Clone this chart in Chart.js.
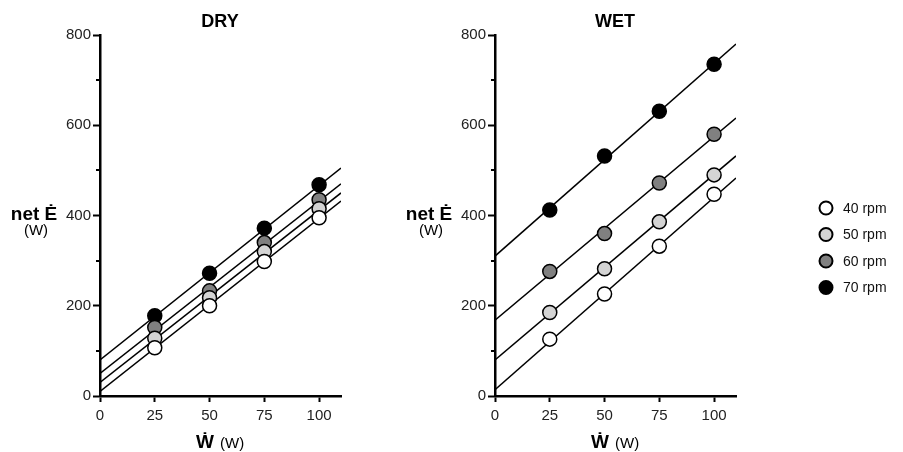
<!DOCTYPE html>
<html>
<head>
<meta charset="utf-8">
<script src="https://cdn.jsdelivr.net/npm/chart.js@4"></script>
<style>
  body { margin: 0; background: #fff; width: 903px; height: 452px; position: relative; overflow: hidden; }
  canvas { position: absolute; top: 0; }
  #dry { left: 0; }
  #wet { left: 395px; }
</style>
</head>
<body>
<canvas id="dry" width="360" height="452"></canvas>
<canvas id="wet" width="508" height="452"></canvas>
<script>
// valores
var workLoads = [25, 50, 75, 100];
var xTicks = [0, 25, 50, 75, 100];
var yTicks = [0, 200, 400, 600, 800];
var yMinor = [100, 300, 500, 700];
var cadences = ['40 rpm', '50 rpm', '60 rpm', '70 rpm'];
var fills = ['#ffffff', '#d4d4d4', '#808080', '#000000'];

var dry40 = [107, 200, 298, 395];
var dry50 = [128, 218, 320, 415];
var dry60 = [152, 233, 340, 435];
var dry70 = [178, 272, 372, 468];

var wet40 = [126, 226, 332, 447];
var wet50 = [185, 282, 386, 490];
var wet60 = [276, 360, 472, 580];
var wet70 = [412, 532, 631, 735];

// retas de regressão: valor em x=0 e x=110
var lineX = [0, 110];
var dryFit = [[10, 432], [30, 450], [50, 470], [80, 505]];
var wetFit = [[14, 483], [80, 532], [168, 616], [310, 780]];

var fontFam = "'Liberation Sans', Arial, 'DejaVu Sans', sans-serif";

function makeData(series, fits) {
    var ds = [];
    series.forEach(function(vals, i) {
        ds.push({
            label: cadences[i],
            data: vals.map(function(v, j) { return { x: workLoads[j], y: v }; }),
            showLine: false,
            pointRadius: 7,
            pointBorderWidth: 1.5,
            pointBorderColor: '#000',
            pointBackgroundColor: fills[i],
            order: i
        });
    });
    fits.forEach(function(f) {
        ds.push({
            data: f.map(function(v, j) { return { x: lineX[j], y: v }; }),
            showLine: true,
            borderColor: '#000',
            borderWidth: 1.5,
            pointRadius: 0,
            order: 10
        });
    });
    return ds;
}

// textos desenhados à mão (título, eixos, minor ticks, legenda)
var extras = {
    id: 'extras',
    afterDraw: function(chart, args, opts) {
        var ctx = chart.ctx;
        var ya = chart.scales.y, xa = chart.scales.x;
        ctx.save();
        // minor ticks
        ctx.strokeStyle = '#000';
        ctx.lineWidth = 2;
        yMinor.forEach(function(v) {
            var py = Math.round(ya.getPixelForValue(v));
            ctx.beginPath();
            ctx.moveTo(xa.left - 4, py);
            ctx.lineTo(xa.left, py);
            ctx.stroke();
        });
        ctx.fillStyle = '#000';
        ctx.textBaseline = 'alphabetic';
        // título
        ctx.textAlign = 'center';
        ctx.font = 'bold 18px ' + fontFam;
        ctx.fillText(opts.title, 220, 27);
        // eixo y
        ctx.font = 'bold 19px ' + fontFam;
        ctx.fillText('net \u0116', 34, 220);
        ctx.font = '15px ' + fontFam;
        ctx.fillText('(W)', 36, 235);
        // eixo x
        ctx.textAlign = 'left';
        ctx.font = 'bold 19px ' + fontFam;
        ctx.fillText('\u1E86', 196, 448);
        ctx.font = '15px ' + fontFam;
        ctx.fillText('(W)', 220, 448);
        // legenda
        if (opts.legend) {
            cadences.forEach(function(c, i) {
                var cy = 208 + i * 26.5;
                ctx.beginPath();
                ctx.arc(431, cy, 6.5, 0, Math.PI * 2);
                ctx.fillStyle = fills[i];
                ctx.fill();
                ctx.lineWidth = 2;
                ctx.strokeStyle = '#000';
                ctx.stroke();
                ctx.fillStyle = '#111';
                ctx.font = '14px ' + fontFam;
                ctx.textBaseline = 'middle';
                ctx.fillText(c, 448, cy + 1);
            });
        }
        ctx.restore();
    }
};

function makeChart(id, series, fits, title, rightPad, legend) {
    return new Chart(document.getElementById(id), {
        type: 'scatter',
        data: { datasets: makeData(series, fits) },
        options: {
            responsive: false,
            animation: false,
            events: [],
            layout: { padding: { top: 35, right: rightPad, left: 0, bottom: 0 } },
            plugins: {
                legend: { display: false },
                tooltip: { enabled: false },
                title: { display: false },
                extras: { title: title, legend: legend }
            },
            scales: {
                x: {
                    type: 'linear', min: 0, max: 110,
                    afterBuildTicks: function(s) { s.ticks = xTicks.map(function(v) { return { value: v }; }); },
                    afterFit: function(s) { s.height = 56; },
                    border: { display: true, color: '#000', width: 2.5 },
                    grid: { drawOnChartArea: false, drawTicks: true, tickLength: 6, tickWidth: 2, tickColor: '#000' },
                    ticks: { color: '#222', font: { size: 15, family: fontFam }, padding: 5, maxRotation: 0 }
                },
                y: {
                    type: 'linear', min: 0, max: 800,
                    afterBuildTicks: function(s) { s.ticks = yTicks.map(function(v) { return { value: v }; }); },
                    afterFit: function(s) { s.width = 100; },
                    border: { display: true, color: '#000', width: 2.5 },
                    grid: { drawOnChartArea: false, drawTicks: true, tickLength: 7, tickWidth: 2, tickColor: '#000' },
                    ticks: { color: '#222', font: { size: 15, family: fontFam }, padding: 2 }
                }
            }
        },
        plugins: [extras]
    });
}

var c1 = makeChart('dry', [dry40, dry50, dry60, dry70], dryFit, 'DRY', 19, false);
var c2 = makeChart('wet', [wet40, wet50, wet60, wet70], wetFit, 'WET', 167, true);
</script>
</body>
</html>
